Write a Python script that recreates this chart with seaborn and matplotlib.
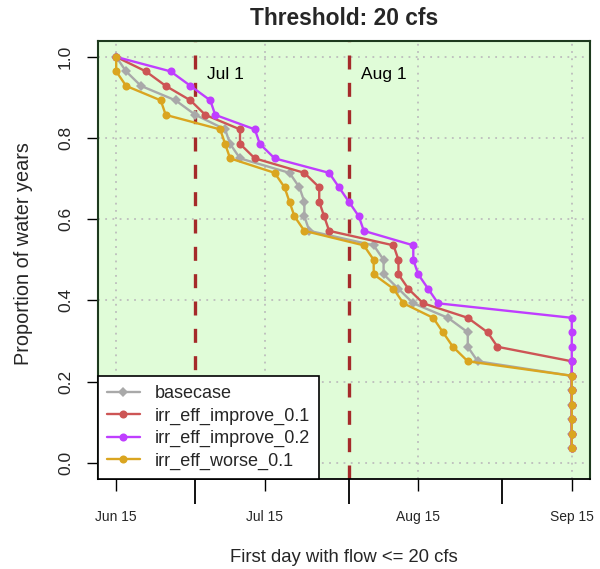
import numpy as np
import pandas as pd
import seaborn as sns
from matplotlib import pyplot as plt

# First day (days after Jun 15) with flow <= 20 cfs, sorted, one value per water year
basecase = [0, 2, 5, 12, 16, 22, 23, 25, 35, 37, 38, 38, 39, 52, 54, 54, 57, 60, 67, 71, 71, 73,
            92, 92, 92, 92, 92, 92]
irr_eff_improve_01 = [0, 6, 10, 15, 18, 25, 25, 28, 38, 41, 41, 42, 43, 56, 57, 57, 59, 62, 71, 75, 77,
                      92, 92, 92, 92, 92, 92, 92]
irr_eff_improve_02 = [0, 11, 15, 19, 20, 28, 29, 32, 43, 45, 47, 49, 50, 60, 60, 61, 63, 65,
                      92, 92, 92, 92, 92, 92, 92, 92, 92, 92]
irr_eff_worse_01 = [0, 0, 2, 9, 10, 21, 22, 23, 32, 34, 35, 36, 38, 50, 52, 52, 56, 58, 64, 66, 68, 71,
                    92, 92, 92, 92, 92, 92]

# number of water years still above the threshold at that point
years_left = [28, 27, 26, 25, 24, 23, 22, 21, 20, 19, 18, 17, 16, 15, 14, 13, 12, 11, 10, 9, 8, 7,
              6, 5, 4, 3, 2, 1]
n_years = 28

series_names = ['basecase', 'irr_eff_improve_0.1', 'irr_eff_improve_0.2', 'irr_eff_worse_0.1']
series_days = [basecase, irr_eff_improve_01, irr_eff_improve_02, irr_eff_worse_01]
series_colors = ['#A9A9A9', '#CD5555', '#BF3EFF', '#DAA520']
series_markers = ['D', 'o', 'o', 'o']

tick_days = [0, 30, 61, 92]
tick_labels = ['Jun 15', 'Jul 15', 'Aug 15', 'Sep 15']
month_start_days = [16, 47, 78]
ref_days = [16, 47]
ref_labels = ['Jul 1', 'Aug 1']

#Build long dataframe
df = pd.concat([pd.DataFrame({'scenario': name, 'day': days,
                              'prop': np.array(years_left) / n_years})
                for name, days in zip(series_names, series_days)], ignore_index=True)

sns.set_theme(style='white')
plt.rcParams['font.family'] = ['Liberation Sans', 'DejaVu Sans']

fig = plt.figure(figsize=(6, 5.69), dpi=100)
ax = fig.add_axes([0.1633, 0.1582, 0.82, 0.7703])
ax.set_facecolor('#E0FCD8')

#Grid
for d in tick_days:
	ax.axvline(d, color='#BDBDBD', lw=1.3, ls=(0, (1, 3)), zorder=1)
for yv in [0, 0.2, 0.4, 0.6, 0.8, 1.0]:
	ax.axhline(yv, color='#BDBDBD', lw=1.3, ls=(0, (1, 3)), zorder=1)

#Reference dates
for d, lab in zip(ref_days, ref_labels):
	ax.axvline(d, color='#A52A2A', lw=2.4, ls=(0, (4.2, 4)), zorder=2)
	ax.text(d + 2.4, 0.956, lab, fontsize=12.5, ha='left', va='center', color='black')

for name, col, mk in zip(series_names, series_colors, series_markers):
	sns.lineplot(data=df[df.scenario == name], x='day', y='prop', color=col, marker=mk,
	             markersize=5.8 if mk == 'o' else 4.8, markeredgewidth=0, lw=1.7,
	             estimator=None, sort=False, label=name, ax=ax, zorder=3)

ax.set_xlim(-3.68, 95.68)
ax.set_ylim(-0.04, 1.04)

ax.set_xticks(tick_days)
ax.set_xticklabels(tick_labels, fontsize=10)
ax.set_xticks(month_start_days, minor=True)
ax.tick_params(axis='x', which='major', length=8.6, width=1, pad=14, bottom=True, color='black')
ax.tick_params(axis='x', which='minor', length=18, width=1.3, bottom=True, color='black')

ax.set_yticks([0, 0.2, 0.4, 0.6, 0.8, 1.0])
ax.set_yticklabels(['0.0', '0.2', '0.4', '0.6', '0.8', '1.0'], fontsize=12.5, rotation=90, va='center')
ax.tick_params(axis='y', length=8, width=1, pad=10, left=True, color='black')

for s in ['top', 'right', 'left']:
	ax.spines[s].set_color('#1E3A1E')
	ax.spines[s].set_linewidth(1.5)
ax.spines['bottom'].set_color('black')
ax.spines['bottom'].set_linewidth(1.3)

ax.set_xlabel('First day with flow <= 20 cfs', fontsize=13.3, labelpad=18)
ax.set_ylabel('Proportion of water years', fontsize=14.3)
ax.yaxis.set_label_coords(-0.132, 0.515)
ax.set_title('Threshold: 20 cfs', fontsize=16.4, fontweight='bold', pad=11)

leg = ax.legend(loc='lower left', bbox_to_anchor=(0, 0), borderaxespad=0, fancybox=False,
                edgecolor='black', framealpha=1, fontsize=13, handlelength=1.8,
                handletextpad=0.85, labelspacing=0.3, borderpad=0.5)
leg.get_frame().set_linewidth(1.2)
leg.set_zorder(5)

fig.savefig('out.png', dpi=100)
